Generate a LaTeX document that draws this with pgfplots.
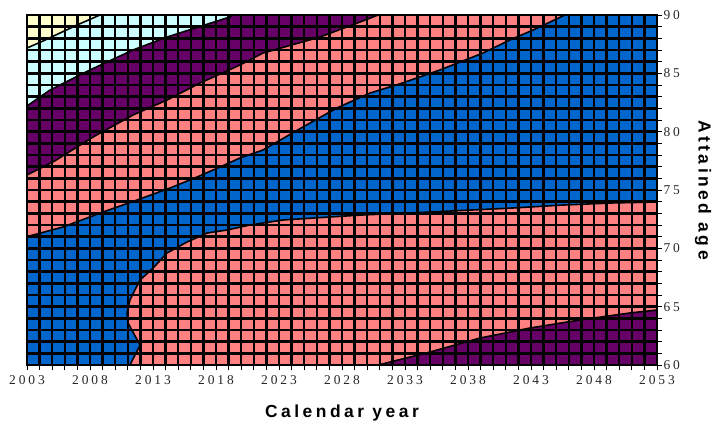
\documentclass[border=0pt]{standalone}
\usepackage{fontspec}
\setmainfont{Liberation Serif}
\newfontfamily\lblfont{Liberation Sans}[LetterSpace=20]
\usepackage{pgfplots}
\pgfplotsset{compat=1.18}

\definecolor{cYellow}{HTML}{FFFFCC}
\definecolor{cCyan}{HTML}{CCFFFF}
\definecolor{cPurple}{HTML}{660066}
\definecolor{cSalmon}{HTML}{FF8080}
\definecolor{cBlue}{HTML}{0066CC}

\begin{document}
\begin{tikzpicture}
\useasboundingbox (-27bp,-60bp) rectangle (685bp,365bp);
\begin{axis}[
  scale only axis,
  width=630bp, height=350bp,
  xmin=2003, xmax=2053, ymin=60, ymax=90,
  xtick={2003,2008,...,2053}, minor x tick num=4,
  ytick={60,65,...,90}, minor y tick num=4,
  xtick pos=bottom, ytick pos=right, yticklabel pos=right,
  tick align=outside,
  major tick length=5bp, minor tick length=5bp,
  tick style={black, line width=0.8bp},
  grid=both,
  major grid style={black, line width=2.5bp},
  minor grid style={black, line width=2.5bp},
  axis line style={black, line width=2.5bp},
  axis on top,
  /pgf/number format/1000 sep={},
  /pgf/number format/assume math mode=true,
  ticklabel style={font=\fontsize{13.5}{13.5}\selectfont\addfontfeature{LetterSpace=22}, text=black!85},
  xticklabel style={yshift=-2bp},
  yticklabel style={anchor=west, xshift=-2bp},
  xlabel={Calendar year},
  ylabel={Attained age},
  every axis x label/.style={at={(axis description cs:0.5,-0.137)}, anchor=center,
    font=\lblfont\bfseries\fontsize{17.5}{17.5}\selectfont},
  every axis y label/.style={at={(axis description cs:1.073,0.5)}, anchor=center, rotate=-90,
    font=\lblfont\bfseries\fontsize{17.5}{17.5}\selectfont},
]
% base level
\addplot[fill=cSalmon, draw=none] coordinates {(2003,60) (2053,60) (2053,90) (2003,90)} --cycle;
% band above the lower contour
\addplot[fill=cBlue, draw=black, line width=1.6bp] coordinates {
  (2011.17,60) (2011.97,61.71) (2011.02,63.6) (2010.94,64.46) (2011.17,65.57)
  (2011.97,67.29) (2013.0,68.3) (2014.11,69.6) (2015.7,70.54) (2017.29,71.31)
  (2018.87,71.57) (2020.7,72.0) (2023.32,72.43) (2027.05,72.69) (2029.67,72.86)
  (2035.0,73.11) (2041.57,73.46) (2045.54,73.71) (2049.5,73.89) (2053,73.97)
  (2053,90) (2003,90) (2003,60)} --cycle;
\addplot[fill=cSalmon, draw=black, line width=1.6bp] coordinates {
  (2003,71.0) (2005.86,71.83) (2009.03,73.11) (2011.73,74.14) (2014.35,75.17)
  (2016.49,76.11) (2018.32,76.97) (2019.9,77.74) (2021.73,78.43) (2024.9,80.4)
  (2027.6,82.03) (2030.22,83.31) (2032.6,84.1) (2035.78,85.29) (2039.19,86.74)
  (2041.33,87.86) (2043.16,88.71) (2045.7,90) (2003,90)} --cycle;
\addplot[fill=cPurple, draw=black, line width=1.6bp] coordinates {
  (2003,76.29) (2005.06,77.4) (2008.24,79.54) (2011.41,81.43) (2014.11,82.71)
  (2016.73,84.17) (2019.9,85.71) (2021.73,86.74) (2026.25,88.11) (2029.43,89.4)
  (2030.86,90) (2003,90)} --cycle;
\addplot[fill=cCyan, draw=black, line width=1.6bp] coordinates {
  (2003,82.2) (2004.83,83.57) (2008.0,85.29) (2011.41,87.0) (2014.11,88.11)
  (2019.1,89.83) (2019.3,90) (2003,90)} --cycle;
\addplot[fill=cYellow, draw=black, line width=1.6bp] coordinates {
  (2003,87.17) (2004.27,87.77) (2006.97,89.14) (2008.79,90) (2003,90)} --cycle;
% lowest band at the bottom right
\addplot[fill=cPurple, draw=black, line width=1.6bp] coordinates {
  (2030.86,60) (2034.98,61.11) (2038.95,62.31) (2042.92,63.17) (2046.89,63.86)
  (2050.86,64.46) (2053,64.71) (2053,60)} --cycle;
\end{axis}
\end{tikzpicture}
\end{document}
